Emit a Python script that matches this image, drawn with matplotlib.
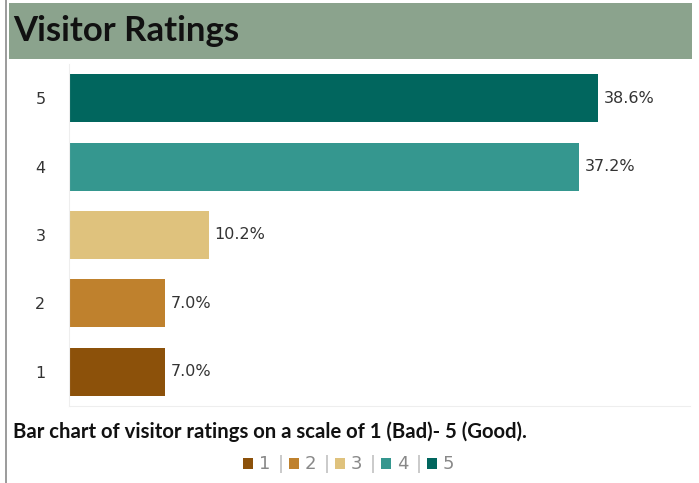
import matplotlib.pyplot as plt
from matplotlib.patches import Rectangle
from matplotlib.lines import Line2D

# ratings and share of visitors (%)
ratings = ["1", "2", "3", "4", "5"]
shares = [7.0, 7.0, 10.2, 37.2, 38.6]
colors = ["#8C510A", "#BF812D", "#DFC27D", "#35978F", "#01665E"]

W, H = 699, 483
fig = plt.figure(figsize=(W / 100, H / 100), dpi=100)

def fx(px):
    return px / W

def fy(py):
    return 1 - py / H

# outer frame line on the left
fig.add_artist(Line2D([fx(6), fx(6)], [0, 1], color="#8a8a8a", lw=1.2))

# title band
fig.add_artist(Rectangle((fx(9), fy(59)), fx(692) - fx(9), fy(3) - fy(59),
                         facecolor="#8BA38D", edgecolor="none"))
fig.text(fx(13), fy(31), "Visitor Ratings", fontsize=25, fontweight="bold",
         family="Lato", va="center", ha="left", color="#111111")

ax = fig.add_axes([fx(69), fy(406), fx(690) - fx(69), fy(64) - fy(406)])
ypos = list(range(len(ratings)))
ax.barh(ypos, shares, height=0.70, color=colors)
for y, v in zip(ypos, shares):
    ax.text(v + 0.4, y, f"{v:.1f}%", va="center", ha="left", fontsize=11.5,
            color="#333333")

ax.set_xlim(0, 45.3)
ax.set_ylim(-0.5, 4.5)
ax.set_yticks(ypos)
ax.set_yticklabels(ratings, fontsize=11.5, color="#333333")
ax.tick_params(axis="y", length=0, pad=17)
ax.set_xticks([])
for s in ["top", "right"]:
    ax.spines[s].set_visible(False)
ax.spines["left"].set_color("#eeeeee")
ax.spines["bottom"].set_color("#eeeeee")

# caption
fig.text(fx(13), fy(432), "Bar chart of visitor ratings on a scale of 1 (Bad)- 5 (Good).",
         fontsize=14.6, fontweight="bold", family="Lato", va="center", ha="left",
         color="#111111")

# legend row
x = 243
yl = fy(464)
for i, (r, c) in enumerate(zip(ratings, colors)):
    fig.add_artist(Rectangle((fx(x), fy(469)), fx(10), fy(458) - fy(469),
                             facecolor=c, edgecolor="none"))
    fig.text(fx(x + 16), yl, r, fontsize=13, color="#888888", va="center", ha="left")
    if i < len(ratings) - 1:
        fig.text(fx(x + 38), yl, "|", fontsize=13, color="#bbbbbb", va="center", ha="center")
    x += 46

fig.savefig("out.png", dpi=100)
